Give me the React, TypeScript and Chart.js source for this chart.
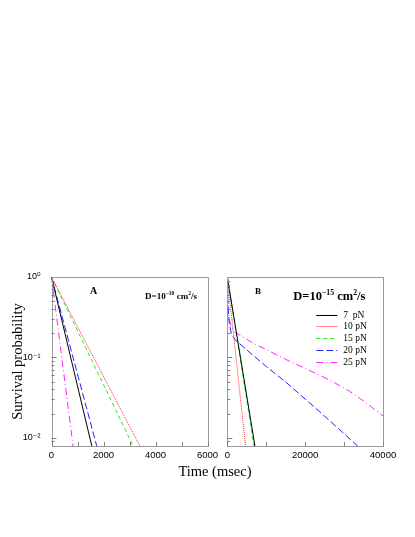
import React, { useEffect, useRef } from 'react';
import { Chart, registerables } from 'chart.js';
Chart.register(...registerables);

// ---- data ----
const Y_MIN = 0.0079;
const Y_MAX = 1;
const SERIES_LABELS = ['7  pN', '10 pN', '15 pN', '20 pN', '25 pN'];
const COLORS = ['#000000', '#ff2a2a', '#22ee22', '#2222ff', '#ff22ff'];
const DASHES: number[][] = [[], [1, 1], [4, 3], [7, 3], [7, 3, 1, 3]];

const Y_TICK_VALUES = [1, 0.1, 0.01];
const Y_TICK_LABELS = ['10⁰', '10⁻¹', '10⁻²'];

const A_X_MAX = 6000;
const A_X_STEP = 1000;
const A_X_LABELED = [0, 2000, 4000, 6000];
const B_X_MAX = 40000;
const B_X_STEP = 10000;
const B_X_LABELED = [0, 20000, 40000];

// Panel A (D = 1e-10 cm^2/s)
const A7_T = [0, 1550];
const A7_P = [1, 0.0079];
const A10_T = [0, 3400];
const A10_P = [1, 0.0079];
const A15_T = [0, 3140];
const A15_P = [1, 0.0079];
const A20_T = [0, 1740];
const A20_P = [1, 0.0079];
const A25_T = [0, 830];
const A25_P = [1, 0.0079];

// Panel B (D = 1e-15 cm^2/s)
const B7_T = [0, 7100];
const B7_P = [1, 0.0079];
const B10_T = [0, 4700];
const B10_P = [1, 0.0079];
const B15_T = [0, 6850];
const B15_P = [1, 0.0079];
const B20_T = [0, 100, 200, 500, 1000, 2000, 5000, 10000, 15300, 23770, 33500];
const B20_P = [1, 0.6, 0.42, 0.27, 0.2, 0.165, 0.124, 0.077, 0.048, 0.021, 0.0079];
const B25_T = [0, 100, 200, 500, 1000, 2000, 6590, 15300, 23770, 27620, 31460, 35310, 40000];
const B25_P = [1, 0.6, 0.42, 0.3, 0.24, 0.205, 0.151, 0.093, 0.06, 0.0482, 0.0378, 0.028, 0.0187];

const A_SERIES = [[A7_T, A7_P], [A10_T, A10_P], [A15_T, A15_P], [A20_T, A20_P], [A25_T, A25_P]];
const B_SERIES = [[B7_T, B7_P], [B10_T, B10_P], [B15_T, B15_P], [B20_T, B20_P], [B25_T, B25_P]];

type Part = { t: string; sup?: boolean };
type Note = { dx: number; dy: number; parts: Part[]; size: number; bold: boolean };

function drawRich(ctx: CanvasRenderingContext2D, x: number, y: number, parts: Part[], size: number, bold: boolean) {
  let cx = x;
  for (const p of parts) {
    const fs = p.sup ? size * 0.62 : size;
    ctx.font = `${bold ? 'bold ' : ''}${fs}px "Liberation Serif", "DejaVu Serif", serif`;
    ctx.fillText(p.t, cx, p.sup ? y - size * 0.42 : y);
    cx += ctx.measureText(p.t).width;
  }
}

function makeFramePlugin(notes: Note[], legend: boolean) {
  return {
    id: 'frame',
    afterDraw(chart: any) {
      const { ctx, chartArea: a } = chart;
      ctx.save();
      ctx.setLineDash([]);
      ctx.lineWidth = 1;
      ctx.strokeStyle = '#9a9a9a';
      ctx.strokeRect(Math.round(a.left) + 0.5, Math.round(a.top) + 0.5, Math.round(a.right - a.left), Math.round(a.bottom - a.top));
      const xs = chart.scales.x;
      const ys = chart.scales.y;
      ctx.strokeStyle = '#808080';
      ctx.beginPath();
      xs.ticks.forEach((t: any) => {
        const px = Math.round(xs.getPixelForValue(t.value)) + 0.5;
        ctx.moveTo(px, a.bottom);
        ctx.lineTo(px, a.bottom - 4);
      });
      ys.ticks.forEach((t: any) => {
        const v = t.value;
        const e = Math.floor(Math.log10(v) + 1e-9);
        const s = v / Math.pow(10, e);
        if (Math.abs(s - Math.round(s)) > 1e-6) return;
        const py = Math.round(ys.getPixelForValue(v)) + 0.5;
        if (py > a.bottom - 1.5 || py < a.top + 1) return;
        const len = Math.round(s) === 1 ? 5 : 3;
        ctx.moveTo(a.left, py);
        ctx.lineTo(a.left + len, py);
      });
      ctx.stroke();

      ctx.fillStyle = '#000';
      ctx.textBaseline = 'alphabetic';
      ctx.textAlign = 'left';
      notes.forEach((n) => drawRich(ctx, a.left + n.dx, a.top + n.dy, n.parts, n.size, n.bold));

      if (legend) {
        chart.data.datasets.forEach((ds: any, i: number) => {
          const y = a.top + 37.5 + i * 11.9;
          ctx.strokeStyle = ds.borderColor;
          ctx.setLineDash(ds.borderDash || []);
          ctx.beginPath();
          ctx.moveTo(a.left + 89, Math.round(y) + 0.5);
          ctx.lineTo(a.left + 110, Math.round(y) + 0.5);
          ctx.stroke();
          ctx.setLineDash([]);
          ctx.fillStyle = '#000';
          ctx.textBaseline = 'middle';
          ctx.font = '9.5px "Liberation Serif", "DejaVu Serif", serif';
          ctx.fillText(ds.label, a.left + 116, y + 0.5);
        });
      }
      ctx.restore();
    },
  };
}

function buildDatasets(series: number[][][]) {
  return series.map(([ts, ps], i) => ({
    label: SERIES_LABELS[i],
    data: ts.map((t, k) => ({ x: t, y: ps[k] })),
    borderColor: COLORS[i],
    backgroundColor: COLORS[i],
    borderDash: DASHES[i],
    borderWidth: 1,
    pointRadius: 0,
    fill: false,
    tension: 0,
  }));
}

function yLabel(v: number) {
  const idx = Y_TICK_VALUES.findIndex((t) => Math.abs(t - v) / t < 1e-6);
  return idx >= 0 ? Y_TICK_LABELS[idx] : '';
}

const CANVAS_H = 215;
const PAD_TOP = 17;
const PLOT_H = 169;

function makeConfig(opts: {
  series: number[][][];
  xMax: number;
  xStep: number;
  xLabeled: number[];
  yWidth: number;
  padRight: number;
  showYLabels: boolean;
  notes: Note[];
  legend: boolean;
}) {
  const xAxisHeight = CANVAS_H - PAD_TOP - PLOT_H;
  return {
    type: 'line',
    data: { datasets: buildDatasets(opts.series) },
    options: {
      responsive: false,
      maintainAspectRatio: false,
      animation: false,
      layout: { padding: { left: 0, top: PAD_TOP, right: opts.padRight, bottom: 0 } },
      plugins: { legend: { display: false }, tooltip: { enabled: false } },
      scales: {
        x: {
          type: 'linear',
          min: 0,
          max: opts.xMax,
          border: { display: false },
          grid: { display: false, drawTicks: false },
          ticks: {
            stepSize: opts.xStep,
            autoSkip: false,
            maxRotation: 0,
            padding: 4,
            color: '#000',
            font: { family: '"Liberation Sans", Arial, sans-serif', size: 9.5 },
            callback: (v: number) => (opts.xLabeled.includes(v) ? String(v) : ''),
          },
          afterFit: (s: any) => {
            s.height = xAxisHeight;
          },
        },
        y: {
          type: 'logarithmic',
          min: Y_MIN,
          max: Y_MAX,
          border: { display: false },
          grid: { display: false, drawTicks: false },
          title: {
            display: opts.showYLabels,
            text: 'Survival probability',
            color: '#000',
            font: { family: '"Liberation Serif", "DejaVu Serif", serif', size: 14.5, weight: 'normal' },
            padding: { top: 9.5, bottom: 0 },
          },
          ticks: {
            display: opts.showYLabels,
            autoSkip: false,
            padding: 11,
            color: '#000',
            font: { family: '"Liberation Sans", "DejaVu Sans", sans-serif', size: 9 },
            callback: (v: number) => yLabel(v),
          },
          afterFit: (s: any) => {
            s.width = opts.yWidth;
          },
        },
      },
    },
    plugins: [makeFramePlugin(opts.notes, opts.legend)],
  } as any;
}

const NOTES_A: Note[] = [
  { dx: 38.5, dy: 17, parts: [{ t: 'A' }], size: 10, bold: true },
  {
    dx: 93.5,
    dy: 22,
    parts: [{ t: 'D=10' }, { t: '−10', sup: true }, { t: ' cm' }, { t: '2', sup: true }, { t: '/s' }],
    size: 9,
    bold: true,
  },
];
const NOTES_B: Note[] = [
  { dx: 27.7, dy: 17, parts: [{ t: 'B' }], size: 9, bold: true },
  {
    dx: 66,
    dy: 23,
    parts: [{ t: 'D=10' }, { t: '−15', sup: true }, { t: ' cm' }, { t: '2', sup: true }, { t: '/s' }],
    size: 12.5,
    bold: true,
  },
];

function Panel(props: { left: number; width: number; config: () => any }) {
  const ref = useRef<HTMLCanvasElement | null>(null);
  useEffect(() => {
    if (!ref.current) return;
    const chart = new Chart(ref.current, props.config());
    return () => chart.destroy();
  }, []);
  return (
    <canvas
      ref={ref}
      width={props.width}
      height={CANVAS_H}
      style={{ position: 'absolute', left: props.left, top: 260, width: props.width, height: CANVAS_H }}
    />
  );
}

export default function App() {
  return (
    <div style={{ position: 'absolute', left: 0, top: 0, width: 415, height: 537, background: '#fff' }}>
      <Panel
        left={0}
        width={230}
        config={() =>
          makeConfig({
            series: A_SERIES,
            xMax: A_X_MAX,
            xStep: A_X_STEP,
            xLabeled: A_X_LABELED,
            yWidth: 51.5,
            padRight: 22.5,
            showYLabels: true,
            notes: NOTES_A,
            legend: false,
          })
        }
      />
      <Panel
        left={215}
        width={200}
        config={() =>
          makeConfig({
            series: B_SERIES,
            xMax: B_X_MAX,
            xStep: B_X_STEP,
            xLabeled: B_X_LABELED,
            yWidth: 12.3,
            padRight: 32,
            showYLabels: false,
            notes: NOTES_B,
            legend: true,
          })
        }
      />
      <div
        style={{
          position: 'absolute',
          left: 140,
          width: 150,
          top: 463,
          textAlign: 'center',
          fontFamily: '"Liberation Serif", "DejaVu Serif", serif',
          fontSize: 14.5,
          lineHeight: '17px',
          color: '#000',
        }}
      >
        Time (msec)
      </div>
    </div>
  );
}
